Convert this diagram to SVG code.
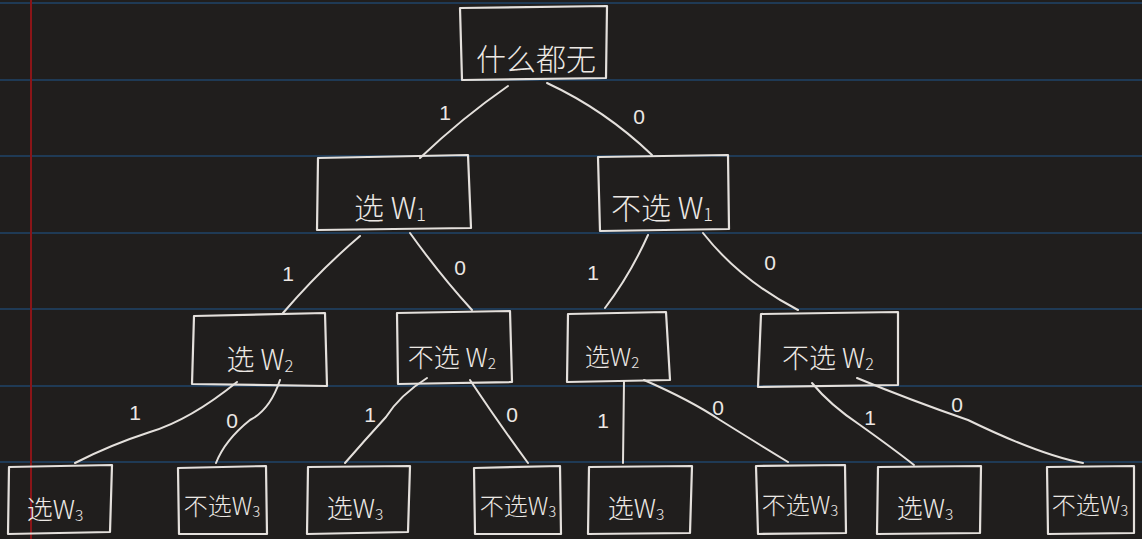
<svg xmlns="http://www.w3.org/2000/svg" width="1142" height="539" viewBox="0 0 1142 539">
<style>
.bg{fill:#201e1d}
.rule{stroke:#1f3a55;stroke-width:2}
.margin{stroke:#8a1518;stroke-width:2}
.box{fill:none;stroke:#e4e0dc;stroke-width:2.2;stroke-linejoin:round;stroke-linecap:round}
.edge{fill:none;stroke:#e4e0dc;stroke-width:2;stroke-linecap:round}
.t{font-family:"Noto Sans CJK SC","Noto Sans",sans-serif;font-weight:300;fill:#ece8e4;text-anchor:middle}
.sub{font-size:60%}
.lbl{font-family:"Liberation Sans","DejaVu Sans",sans-serif;font-size:21px;fill:#ece8e4;text-anchor:middle}
</style>
<rect class="bg" x="0" y="0" width="1142" height="539"/>
<g id="paper">
<line class="rule" x1="0" y1="3" x2="1142" y2="3"/>
<line class="rule" x1="0" y1="80" x2="1142" y2="80"/>
<line class="rule" x1="0" y1="156" x2="1142" y2="156"/>
<line class="rule" x1="0" y1="233" x2="1142" y2="233"/>
<line class="rule" x1="0" y1="309" x2="1142" y2="309"/>
<line class="rule" x1="0" y1="386" x2="1142" y2="386"/>
<line class="rule" x1="0" y1="462" x2="1142" y2="462"/>
<line class="margin" x1="31" y1="0" x2="31" y2="539"/>
</g>
<g id="connectors">
<path class="edge" d="M508,86 Q462,118 420,158"/>
<path class="edge" d="M547,83 Q605,110 652,155"/>
<path class="edge" d="M360,236 Q320,270 283,313"/>
<path class="edge" d="M410,233 Q440,275 472,310"/>
<path class="edge" d="M648,235 Q630,275 605,308"/>
<path class="edge" d="M703,233 Q740,280 798,310"/>
<path class="edge" d="M237,382 Q190,420 150,432 Q110,445 75,463"/>
<path class="edge" d="M280,380 Q270,410 250,420 Q225,440 216,463"/>
<path class="edge" d="M427,378 Q400,395 386,417 Q365,440 345,463"/>
<path class="edge" d="M470,380 Q500,425 528,463"/>
<path class="edge" d="M624,381 L623,463"/>
<path class="edge" d="M644,380 Q690,400 720,420 Q760,445 788,462"/>
<path class="edge" d="M812,383 Q830,405 860,425 Q895,450 914,465"/>
<path class="edge" d="M857,378 Q910,400 968,420 Q1040,455 1083,463"/>
<text class="lbl" x="445" y="120">1</text>
<text class="lbl" x="639" y="124">0</text>
<text class="lbl" x="288" y="281">1</text>
<text class="lbl" x="460" y="275">0</text>
<text class="lbl" x="593" y="280">1</text>
<text class="lbl" x="770" y="270">0</text>
<text class="lbl" x="135" y="420">1</text>
<text class="lbl" x="232" y="428">0</text>
<text class="lbl" x="370" y="422">1</text>
<text class="lbl" x="512" y="422">0</text>
<text class="lbl" x="603" y="428">1</text>
<text class="lbl" x="718" y="415">0</text>
<text class="lbl" x="870" y="425">1</text>
<text class="lbl" x="957" y="412">0</text>
</g>
<g id="root">
<path class="box" d="M460,8 L607,6 L606,78 L462,80 Z"/>
<text class="t" x="536" y="70" font-size="30">什么都无</text>
</g>
<g id="sel-w1">
<path class="box" d="M318,158 L468,155 L471,228 L317,230 Z"/>
<text class="t" x="390" y="219" font-size="30">选 W<tspan class="sub" dy="2">1</tspan></text>
</g>
<g id="nsel-w1">
<path class="box" d="M598,157 L728,155 L729,229 L600,231 Z"/>
<text class="t" x="662" y="219" font-size="30">不选 W<tspan class="sub" dy="2">1</tspan></text>
</g>
<g id="sel-w2-a">
<path class="box" d="M194,316 L325,313 L327,386 L192,384 Z"/>
<text class="t" x="260" y="370" font-size="28">选 W<tspan class="sub" dy="2">2</tspan></text>
</g>
<g id="nsel-w2-a">
<path class="box" d="M397,313 L510,311 L512,382 L398,384 Z"/>
<text class="t" x="452" y="367" font-size="26">不选 W<tspan class="sub" dy="2">2</tspan></text>
</g>
<g id="sel-w2-b">
<path class="box" d="M568,314 L666,312 L670,380 L567,382 Z"/>
<text class="t" x="612" y="366" font-size="25">选W<tspan class="sub" dy="2">2</tspan></text>
</g>
<g id="nsel-w2-b">
<path class="box" d="M761,314 L898,312 L898,385 L758,387 Z"/>
<text class="t" x="828" y="368" font-size="27">不选 W<tspan class="sub" dy="2">2</tspan></text>
</g>
<g id="l3-1">
<path class="box" d="M9,467 L112,465 L110,532 L8,534 Z"/>
<text class="t" x="55" y="519" font-size="26">选W<tspan class="sub" dy="2">3</tspan></text>
</g>
<g id="l3-2">
<path class="box" d="M178,468 L266,466 L267,534 L179,534 Z"/>
<text class="t" x="222" y="515" font-size="24">不选W<tspan class="sub" dy="2">3</tspan></text>
</g>
<g id="l3-3">
<path class="box" d="M308,467 L410,466 L408,532 L307,534 Z"/>
<text class="t" x="355" y="518" font-size="26">选W<tspan class="sub" dy="2">3</tspan></text>
</g>
<g id="l3-4">
<path class="box" d="M474,468 L560,466 L561,534 L475,534 Z"/>
<text class="t" x="518" y="515" font-size="24">不选W<tspan class="sub" dy="2">3</tspan></text>
</g>
<g id="l3-5">
<path class="box" d="M589,467 L692,466 L690,533 L588,534 Z"/>
<text class="t" x="636" y="518" font-size="26">选W<tspan class="sub" dy="2">3</tspan></text>
</g>
<g id="l3-6">
<path class="box" d="M756,466 L845,465 L846,533 L758,534 Z"/>
<text class="t" x="800" y="514" font-size="24">不选W<tspan class="sub" dy="2">3</tspan></text>
</g>
<g id="l3-7">
<path class="box" d="M878,467 L981,466 L980,533 L877,534 Z"/>
<text class="t" x="925" y="518" font-size="26">选W<tspan class="sub" dy="2">3</tspan></text>
</g>
<g id="l3-8">
<path class="box" d="M1047,467 L1134,466 L1134,533 L1048,534 Z"/>
<text class="t" x="1090" y="514" font-size="24">不选W<tspan class="sub" dy="2">3</tspan></text>
</g>
</svg>
